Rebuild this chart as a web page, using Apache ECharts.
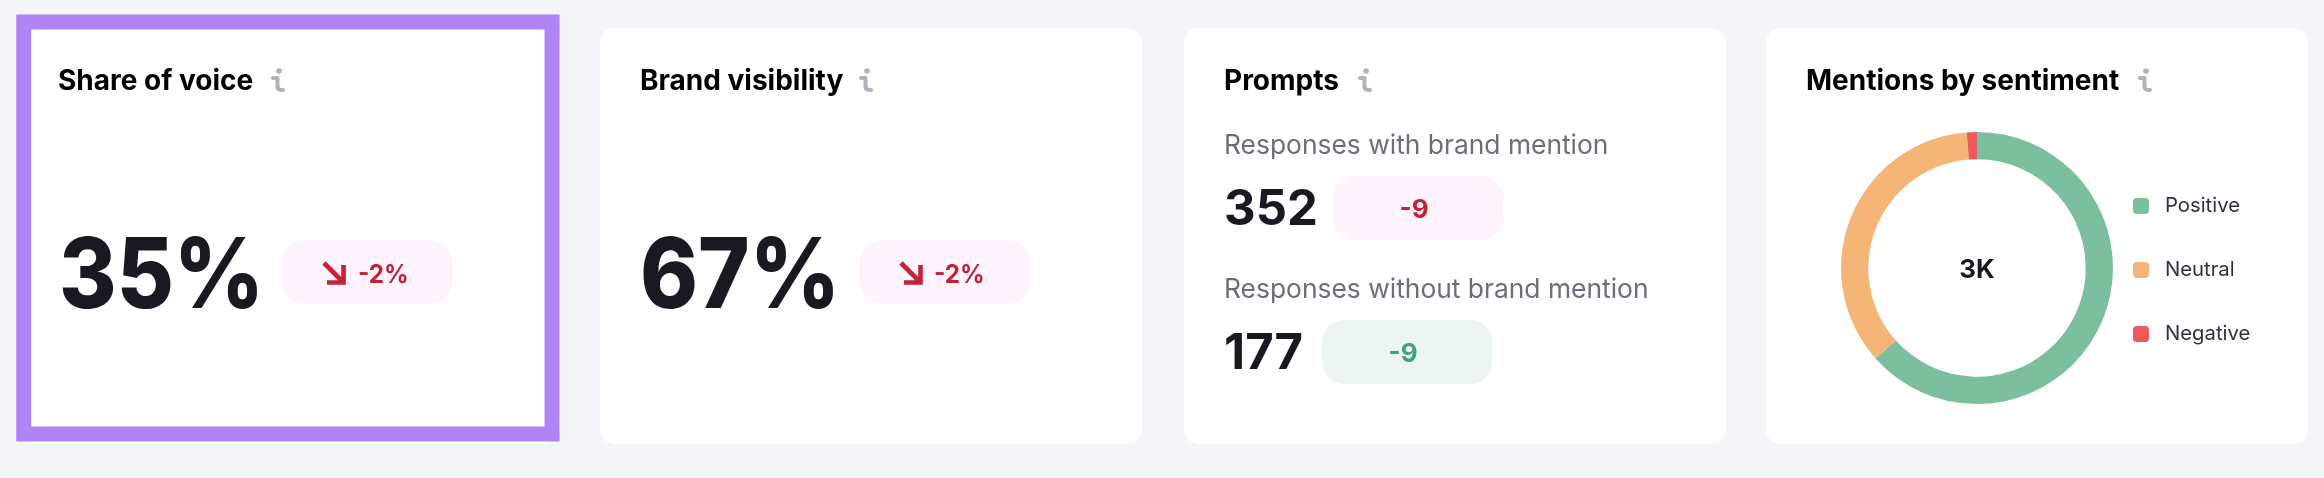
<!DOCTYPE html>
<html>
<head>
<meta charset="utf-8">
<style>html,body{margin:0;padding:0;background:#F4F5F9}#c{width:2324px;height:478px}</style>
<script src="https://cdn.jsdelivr.net/npm/echarts@6/dist/echarts.min.js"></script>
</head>
<body>
<div id="c"></div>
<script>
const cardTitles = ['Share of voice', 'Brand visibility', 'Prompts', 'Mentions by sentiment'];
const bigValues = ['35%', '67%'];
const bigDeltas = ['-2%', '-2%'];
const promptLabels = ['Responses with brand mention', 'Responses without brand mention'];
const promptValues = ['352', '177'];
const promptDeltas = ['-9', '-9'];
const sentimentNames = ['Positive', 'Neutral', 'Negative'];
const sentimentValues = [1902, 1062, 36];
const sentimentTotal = '3K';

const FONT = 'Inter, "Noto Sans", sans-serif';
const RED = '#C42237', GREEN = '#3FA37F', DARK = '#181A21';
const chart = echarts.init(document.getElementById('c'), null, {renderer: 'canvas', width: 2324, height: 478});
const g = [];
function text(x, y, s, size, weight, fill, align, scaleX) {
  g.push({type: 'text', x, y, scaleX: scaleX || 1, silent: true, style: {text: s, font: weight + ' ' + size + 'px ' + FONT, fill, textAlign: align || 'left', textVerticalAlign: 'middle'}});
}
function box(x, y, w, h, r, fill) {
  g.push({type: 'rect', silent: true, shape: {x, y, width: w, height: h, r}, style: {fill}});
}
function info(x, y) {
  const st = {fill: 'none', stroke: '#B1B1C1', lineWidth: 4, lineCap: 'round', lineJoin: 'round'};
  g.push({type: 'circle', silent: true, shape: {cx: x + 6, cy: y + 3, r: 2.8}, style: {fill: '#B1B1C1'}});
  g.push({type: 'polyline', silent: true, shape: {points: [[x, y + 10], [x + 4.5, y + 10], [x + 4.5, y + 19]]}, style: st});
  g.push({type: 'bezierCurve', silent: true, shape: {x1: x + 4.5, y1: y + 19, x2: x + 10, y2: y + 22, cpx1: x + 4.5, cpy1: y + 22}, style: st});
}
function arrow(x, y) {
  const st = {fill: 'none', stroke: RED, lineWidth: 4.6, lineCap: 'butt', lineJoin: 'miter'};
  g.push({type: 'line', silent: true, shape: {x1: x + 1, y1: y + 1, x2: x + 20, y2: y + 20}, style: st});
  g.push({type: 'polyline', silent: true, shape: {points: [[x + 20.5, y + 3], [x + 20.5, y + 20.5], [x + 4, y + 20.5]]}, style: st});
}
// cards
[18, 600, 1184, 1766].forEach(x => box(x, 28, 542, 416, 15, '#FFFFFF'));
// highlight frame
g.push({type: 'rect', silent: true, shape: {x: 23.75, y: 22, width: 528.25, height: 412}, style: {fill: 'none', stroke: '#B083F7', lineWidth: 15}});
// titles
[58, 640, 1224, 1806].forEach((x, i) => text(x, 82, cardTitles[i], 28, 700, '#000000'));
[273, 861, 1360, 2140].forEach(x => info(x, 68));
// big values
[59, 640].forEach((x, i) => text(x, 279, bigValues[i], 97, 800, DARK, 'left', 0.905));
[282, 860].forEach(x => box(x, 240, 170, 64, 22, '#FFF4FD'));
[323, 900].forEach(x => arrow(x, 262));
[358, 934].forEach((x, i) => text(x, 275, bigDeltas[i], 25, 700, RED, 'left', 0.97));
// prompts
[146, 290].forEach((y, i) => text(1224, y, promptLabels[i], 26.4, 400, '#6C6E79'));
[210, 354].forEach((y, i) => text(1224, y, promptValues[i], 49, 700, DARK));
box(1333, 176, 170, 64, 22, '#FFF4FD');
box(1322, 320, 170, 64, 22, '#ECF6EF');
text(1414, 210, promptDeltas[0], 26, 700, RED, 'center');
text(1403, 354, promptDeltas[1], 26, 700, GREEN, 'center');
// donut centre
text(1977, 270, sentimentTotal, 26, 700, DARK, 'center');

chart.setOption({
  animation: false,
  backgroundColor: '#F4F5F9',
  graphic: {elements: g.map(e => Object.assign({z: 1}, e))},
  color: ['#7CBF9F', '#F4B577', '#EC5A5E'],
  legend: {
    orient: 'vertical', left: 2133, top: 196, itemWidth: 16, itemHeight: 16, itemGap: 44,
    icon: 'roundRect', selectedMode: false, padding: 0, z: 10,
    textStyle: {fontFamily: FONT, fontSize: 20.3, color: '#2F3140', padding: [0, 0, 0, 11]},
    data: sentimentNames
  },
  series: [{
    type: 'pie', z: 10, center: [1977, 268], radius: [108.7, 136], startAngle: 90, clockwise: true,
    silent: true, label: {show: false}, labelLine: {show: false}, itemStyle: {borderWidth: 0},
    data: sentimentNames.map((name, i) => ({name, value: sentimentValues[i]}))
  }]
});
</script>
</body>
</html>
